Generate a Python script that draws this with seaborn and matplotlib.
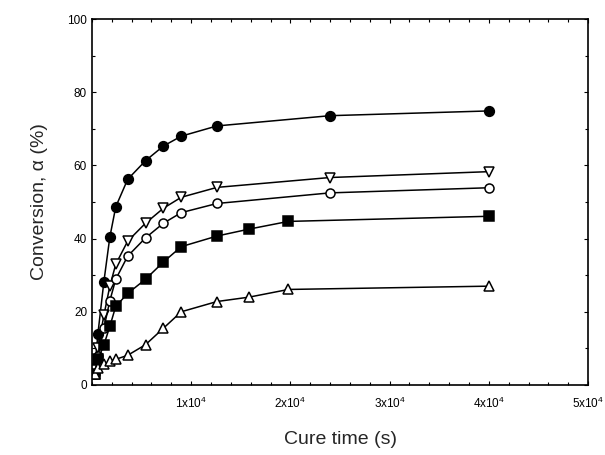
import numpy as np
import pandas as pd
import matplotlib
matplotlib.use('Agg')
import matplotlib.pyplot as plt
import seaborn as sns

# Cure time (s) and conversion (%)
t_filled_circle = [300, 600, 1200, 1800, 2400, 3600, 5400, 7200, 9000, 12600, 24000, 40000]
a_filled_circle = [5, 14, 28.2, 40.4, 48.7, 56.2, 61.3, 65.3, 68.0, 70.8, 73.6, 74.9]

t_down_tri = [300, 600, 1200, 1800, 2400, 3600, 5400, 7200, 9000, 12600, 24000, 40000]
a_down_tri = [4, 10, 19, 27, 33, 39.3, 44.2, 48.3, 51.3, 54.0, 56.7, 58.3]

t_open_circle = [300, 600, 1200, 1800, 2400, 3600, 5400, 7200, 9000, 12600, 24000, 40000]
a_open_circle = [3, 8, 15.5, 23.0, 28.9, 35.2, 40.2, 44.2, 47.1, 49.6, 52.5, 53.9]

t_square = [300, 600, 1200, 1800, 2400, 3600, 5400, 7200, 9000, 12600, 15840, 19800, 40000]
a_square = [3, 7, 10.9, 16, 21.5, 25, 28.9, 33.6, 37.8, 40.7, 42.6, 44.7, 46.1]

t_up_tri = [300, 600, 1200, 1800, 2400, 3600, 5400, 7200, 9000, 12600, 15840, 19800, 40000]
a_up_tri = [3, 4.5, 5.6, 6.5, 7.0, 8.1, 11.0, 15.5, 20.0, 22.8, 24.0, 26.1, 27.0]

series = [
    (t_filled_circle, a_filled_circle, 'o', 'black', 7),
    (t_down_tri, a_down_tri, 'v', 'white', 6.5),
    (t_open_circle, a_open_circle, 'o', 'white', 6.5),
    (t_square, a_square, 's', 'black', 6.5),
    (t_up_tri, a_up_tri, '^', 'white', 6.5),
]

sns.set_style('ticks')
plt.rcParams['font.family'] = ['Liberation Sans', 'DejaVu Sans']
plt.rcParams['mathtext.default'] = 'regular'

fig = plt.figure(figsize=(6.05, 4.55), dpi=100)
ax = fig.add_axes([0.152, 0.154, 0.82, 0.804])

for t, a, m, fc, ms in series:
    df = pd.DataFrame({'t': t, 'a': a})
    sns.lineplot(data=df, x='t', y='a', ax=ax, color='black', linewidth=1.1,
                 marker=m, markersize=ms, markerfacecolor=fc,
                 markeredgecolor='black', markeredgewidth=1.1)

ax.set_xlim(0, 50000)
ax.set_ylim(0, 100)
ax.set_xticks([10000, 20000, 30000, 40000, 50000])
ax.set_xticklabels(['1x10$^4$', '2x10$^4$', '3x10$^4$', '4x10$^4$', '5x10$^4$'])
ax.set_xticks(np.arange(0, 50001, 2000), minor=True)
ax.set_yticks([0, 20, 40, 60, 80, 100])
ax.set_yticks(np.arange(0, 101, 10), minor=True)

ax.tick_params(which='both', direction='in', top=True, right=True, labelsize=8.5,
               width=0.8, colors='black')
ax.tick_params(which='major', length=3)
ax.tick_params(which='minor', length=2)
ax.tick_params(axis='x', pad=8)
for s in ax.spines.values():
    s.set_linewidth(1.2)
    s.set_color('black')

ax.set_xlabel('Cure time (s)', fontsize=14, labelpad=14, fontweight='light')
ax.set_ylabel('Conversion, α (%)', fontsize=14, labelpad=14, fontweight='light')

fig.savefig('out.png', dpi=100)
